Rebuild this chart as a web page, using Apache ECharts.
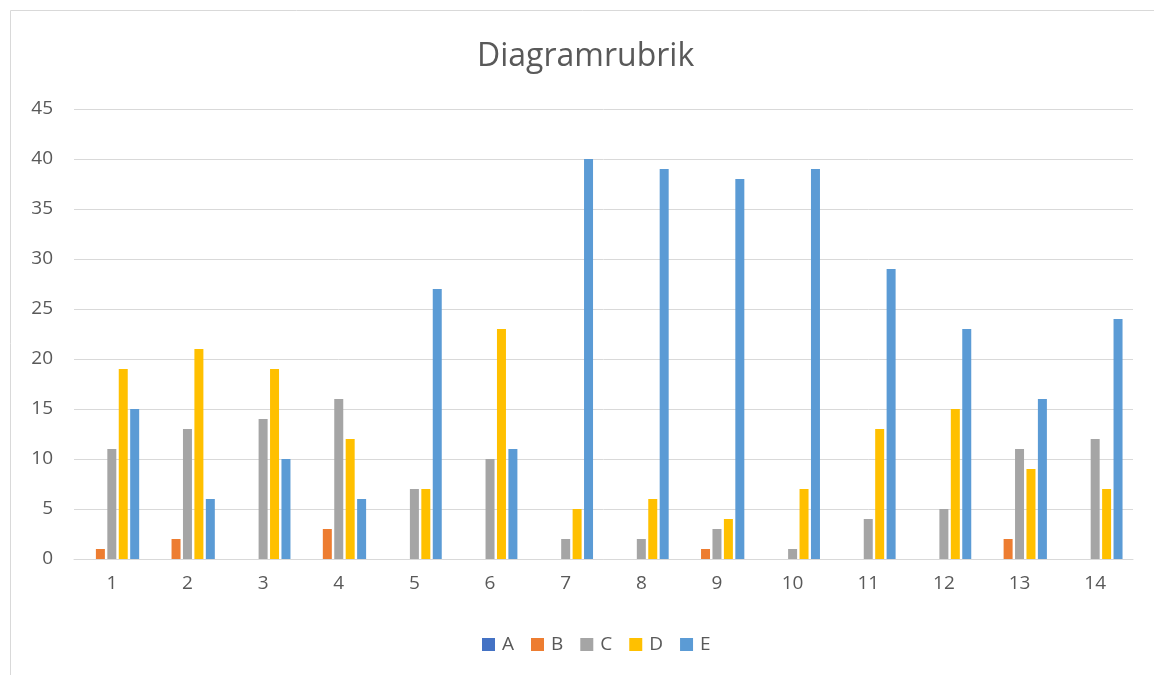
<!DOCTYPE html>
<html><head><meta charset="utf-8">
<script src="https://cdn.jsdelivr.net/npm/echarts@6/dist/echarts.min.js"></script>
<style>html,body{margin:0;padding:0;background:#fff}#c{width:1154px;height:675px}</style>
</head><body><div id="c"></div>
<script>
const categories = ['1','2','3','4','5','6','7','8','9','10','11','12','13','14'];
const seriesNames = ['A','B','C','D','E'];
const A = [0,0,0,0,0,0,0,0,0,0,0,0,0,0];
const B = [1,2,0,3,0,0,0,0,1,0,0,0,2,0];
const C = [11,13,14,16,7,10,2,2,3,1,4,5,11,12];
const D = [19,21,19,12,7,23,5,6,4,7,13,15,9,7];
const E = [15,6,10,6,27,11,40,39,38,39,29,23,16,24];
const colors = ['#4472C4','#ED7D31','#A5A5A5','#FFC000','#5B9BD5'];
const data = [A,B,C,D,E];
const font = 'Open Sans, Noto Sans, sans-serif';
const chart = echarts.init(document.getElementById('c'));
chart.setOption({
  animation:false,
  title:{text:'Diagramrubrik',left:477,top:41,padding:0,textStyle:{fontFamily:font,fontSize:32,fontWeight:'normal',color:'#595959'}},
  graphic:[{type:'rect',shape:{x:10.5,y:10.5,width:1200,height:700},style:{fill:'none',stroke:'#d9d9d9',lineWidth:1}}],
  legend:{data:seriesNames,top:635,left:482,padding:0,icon:'rect',itemWidth:13,itemHeight:13,itemGap:17,
    textStyle:{fontFamily:font,fontSize:19,color:'#595959',padding:[0,0,0,2]}},
  grid:{left:74,right:21,top:109,bottom:116,containLabel:false},
  xAxis:{type:'category',data:categories,axisLine:{lineStyle:{color:'#d9d9d9',width:1}},axisTick:{show:false},
    axisLabel:{fontFamily:font,fontSize:19,color:'#595959',margin:15}},
  yAxis:{type:'value',min:0,max:45,interval:5,axisLine:{show:false},axisTick:{show:false},
    splitLine:{lineStyle:{color:'#d9d9d9',width:1}},
    axisLabel:{fontFamily:font,fontSize:19,color:'#595959',margin:21}},
  series:seriesNames.map((n,i)=>({name:n,type:'bar',data:data[i],barWidth:9,barGap:'27%',itemStyle:{color:colors[i]}}))
});
</script></body></html>
